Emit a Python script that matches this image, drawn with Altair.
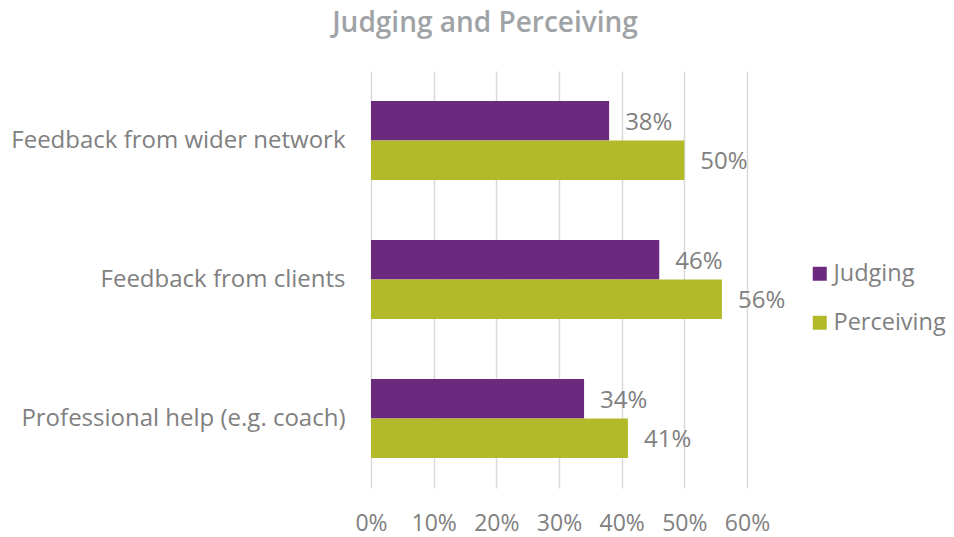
import altair as alt
import pandas as pd

categories = ["Feedback from wider network", "Feedback from clients", "Professional help (e.g. coach)"]
series = ["Judging", "Perceiving"]
judging = [0.38, 0.46, 0.34]
perceiving = [0.50, 0.56, 0.41]
x_ticks = [0, 0.1, 0.2, 0.3, 0.4, 0.5, 0.6]
colors = ["#6C2A7E", "#B3BA2A"]

rows = []
for c, j, p in zip(categories, judging, perceiving):
    rows.append({"cat": c, "series": "Judging", "value": j})
    rows.append({"cat": c, "series": "Perceiving", "value": p})
df = pd.DataFrame(rows)

FONT = "Open Sans"
GRAY = "#808080"

y_enc = alt.Y("cat:N", sort=categories, title=None,
              scale=alt.Scale(paddingInner=0.43, paddingOuter=0.215),
              axis=alt.Axis(labelFontSize=24, labelColor=GRAY, labelFont=FONT,
                            labelPadding=26, domain=False, ticks=False, labelLimit=500))
yoff = alt.YOffset("series:N", sort=series, scale=alt.Scale(paddingInner=0, paddingOuter=0))
x_enc = alt.X("value:Q", title=None,
              scale=alt.Scale(domain=[0, 0.6], nice=False),
              axis=alt.Axis(values=x_ticks, format=".0%", labelFontSize=23, labelColor=GRAY,
                            labelFont=FONT, labelPadding=24, labelFlush=False, domain=False,
                            ticks=False, gridColor="#D9D9D9", gridWidth=1.5))

bars = alt.Chart(df).mark_bar().encode(
    y=y_enc, yOffset=yoff, x=x_enc,
    color=alt.Color("series:N", sort=series,
                    scale=alt.Scale(domain=series, range=colors),
                    legend=alt.Legend(title=None, orient="none", legendX=437, legendY=191,
                                      symbolType="square", symbolSize=196, symbolStrokeWidth=0,
                                      labelFontSize=23.5, labelColor=GRAY, labelFont=FONT,
                                      labelOffset=2, rowPadding=24)),
)

labels = alt.Chart(df).mark_text(align="left", baseline="middle", dx=16, dy=2, fontSize=24,
                                 font=FONT, color=GRAY).encode(
    y=alt.Y("cat:N", sort=categories), yOffset=yoff, x=alt.X("value:Q"),
    text=alt.Text("value:Q", format=".0%"),
)

chart = (bars + labels).properties(
    width=376, height=417,
    autosize=alt.AutoSizeParams(type="none"),
    padding={"left": 363, "top": 63, "right": 199, "bottom": 50},
    title=alt.TitleParams("Judging and Perceiving", fontSize=28, fontWeight=600,
                          color="#A0A3A6", font=FONT, anchor="middle", dx=-74, offset=33),
).configure_view(stroke=None)

chart.save("out.html", embed_options={"renderer": "svg", "actions": False})
